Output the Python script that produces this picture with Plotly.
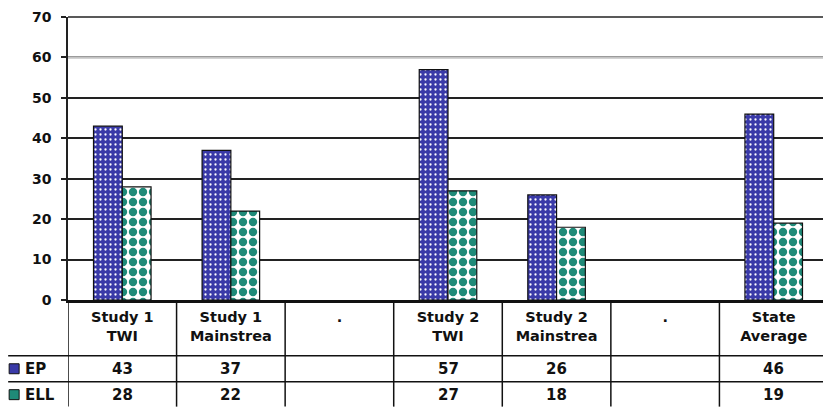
import plotly.graph_objects as go

# ---- data ----
categories = ["Study 1<br>TWI", "Study 1<br>Mainstrea", ".", "Study 2<br>TWI",
              "Study 2<br>Mainstrea", ".", "State<br>Average"]
ep_values = [43, 37, None, 57, 26, None, 46]
ell_values = [28, 22, None, 27, 18, None, 19]
series_names = ["EP", "ELL"]
y_ticks = [0, 10, 20, 30, 40, 50, 60, 70]

EP_BG = "#3a3aa8"
ELL_FG = "#1f8a78"
FONT = "DejaVu Sans"

xpos = list(range(len(categories)))

fig = go.Figure()
fig.add_trace(go.Bar(
    x=xpos, y=ep_values, name=series_names[0],
    marker=dict(color=EP_BG, line=dict(color="#111", width=1.2),
                pattern=dict(shape=".", bgcolor=EP_BG, fgcolor="white",
                             size=5, solidity=0.16, fillmode="replace")),
))
fig.add_trace(go.Bar(
    x=xpos, y=ell_values, name=series_names[1],
    marker=dict(color="white", line=dict(color="#111", width=1.2),
                pattern=dict(shape=".", bgcolor="white", fgcolor=ELL_FG,
                             size=10, solidity=0.55, fillmode="replace")),
))

# page has an 8px body margin: figure occupies page pixels 8..831 / 8..407
OFF = 8
W, H = 831 - OFF, 407 - OFF
L, R, T, B = 68 - OFF, 1, 16 - OFF, 407 - 300
ph = H - T - B

def py(page_pix):
    """page pixel y -> paper y"""
    return (H - B - (page_pix - OFF)) / ph

def px(page_pix):
    return ((page_pix - OFF) - L) / (W - L - R)

shapes = []
# light gray line at 60
shapes.append(dict(type="line", xref="paper", yref="y", x0=0, x1=1, y0=60, y1=60,
                   line=dict(color="#c4c4c4", width=2.5), layer="above"))
# top border of plot area (the 70 line)
shapes.append(dict(type="line", xref="paper", yref="paper", x0=0, x1=1, y0=1, y1=1,
                   line=dict(color="#222", width=1.5), layer="above"))
# table horizontal lines
for ypix in [356, 382]:
    shapes.append(dict(type="line", xref="paper", yref="paper", x0=px(OFF), x1=1,
                       y0=py(ypix), y1=py(ypix), line=dict(color="#111", width=1.5)))
# table vertical lines
for i in range(len(categories)):
    xv = i - 0.5
    shapes.append(dict(type="line", xref="x", yref="paper", x0=xv, x1=xv,
                       y0=0, y1=py(407), line=dict(color="#111", width=1.5)))
# legend keys
key_cols = [EP_BG, ELL_FG]
row_y = [369, 395]
for k, ypix in enumerate(row_y):
    shapes.append(dict(type="rect", xref="paper", yref="paper",
                       x0=px(9), x1=px(19), y0=py(ypix - 5), y1=py(ypix + 5),
                       fillcolor=key_cols[k], line=dict(color="#111", width=1)))

annotations = []
for r, (name, vals) in enumerate(zip(series_names, [ep_values, ell_values])):
    annotations.append(dict(x=px(23), y=py(row_y[r]), xref="paper", yref="paper",
                            text=name, showarrow=False, xanchor="left", yanchor="middle",
                            font=dict(family=FONT, size=15, color="#111", weight="bold")))
    for i, v in enumerate(vals):
        if v is None:
            continue
        annotations.append(dict(x=i, y=py(row_y[r]), xref="x", yref="paper",
                                text=str(v), showarrow=False, yanchor="middle",
                                font=dict(family=FONT, size=15, color="#111", weight="bold")))

fig.update_layout(
    width=W, height=H,
    margin=dict(l=L, r=R, t=T, b=B, pad=0),
    paper_bgcolor="white", plot_bgcolor="white",
    showlegend=False,
    barmode="group", bargap=0.47, bargroupgap=0,
    shapes=shapes, annotations=annotations,
    font=dict(family=FONT, color="#111"),
)
fig.update_xaxes(
    range=[-0.5, len(categories) - 0.5], tickvals=xpos, ticktext=categories,
    showgrid=False, zeroline=False, showline=True, linecolor="#111", linewidth=2.5,
    ticks="", ticklabelstandoff=2,
    tickfont=dict(family=FONT, size=14.5, color="#111", weight="bold"),
    fixedrange=True,
)
fig.update_yaxes(
    range=[0, 70.01], tickvals=y_ticks, showgrid=True, gridcolor="#222", gridwidth=1.5,
    zeroline=False, showline=True, linecolor="#222", linewidth=1.5, mirror=True,
    ticks="outside", ticklen=5, tickcolor="#222", tickwidth=1.5, ticklabelstandoff=7,
    ticklabeloverflow="allow",
    tickfont=dict(family=FONT, size=14, color="#111", weight="bold"),
    fixedrange=True,
)

fig.write_html("out.html")
